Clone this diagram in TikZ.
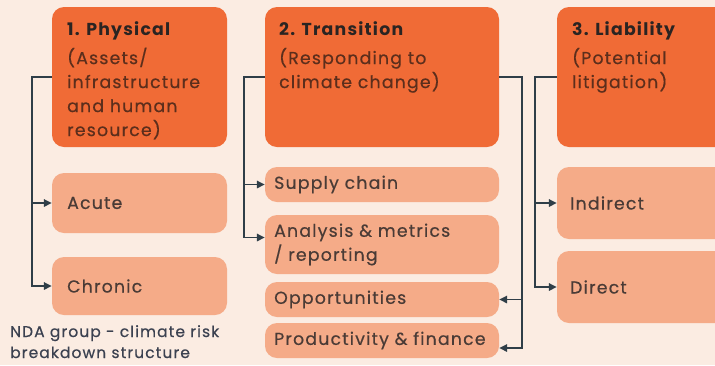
\documentclass[tikz,border=0pt]{standalone}
\usepackage{fontspec}
\setmainfont{Poppins}[LetterSpace=7, FakeBold=0.5, BoldFont=Poppins Bold, BoldFeatures={FakeBold=0}]
\usetikzlibrary{arrows.meta}
\definecolor{bgpeach}{HTML}{FBECE2}
\definecolor{riskorange}{HTML}{F06B36}
\definecolor{risklight}{HTML}{F5AB88}
\definecolor{slate}{HTML}{2F3E48}
\definecolor{headtext}{HTML}{2A2422}
\definecolor{subtext}{HTML}{5C2E1C}
\definecolor{itemtext}{HTML}{4A3B36}
\definecolor{captext}{HTML}{3B4150}
\tikzset{
  mainbox/.style={fill=riskorange, rounded corners=12pt, inner sep=0pt},
  itembox/.style={fill=risklight, rounded corners=12pt, inner sep=0pt},
  headlabel/.style={anchor=north west, align=left, inner sep=0pt, font=\fontsize{17.3}{24}\selectfont, text=subtext},
  itemlabel/.style={anchor=west, align=left, inner sep=0pt, font=\fontsize{17.3}{24}\selectfont, text=itemtext},
  conn/.style={draw=slate, line width=1.6pt},
  arr/.style={conn, -{Triangle[length=8pt, width=7.5pt]}},
}
\begin{document}
\begin{tikzpicture}[x=1pt, y=-1pt]
\useasboundingbox (0,0) rectangle (715,365);
\clip (0,0) rectangle (715,365);
\fill[bgpeach] (0,0) rectangle (715,365);

% --- main category boxes
\node[mainbox, minimum width=175pt, minimum height=140pt] (p1) at (139.5,77) {};
\node[mainbox, minimum width=234pt, minimum height=140pt] (p2) at (382,77) {};
\node[mainbox, minimum width=180pt, minimum height=140pt] (p3) at (647,77) {};

\node[headlabel] (t1) at (67,21) {\textbf{\color{headtext}1. Physical}\\[5pt](Assets/\\infrastructure\\and human\\resource)};
\node[headlabel] (t2) at (279,21) {\textbf{\color{headtext}2. Transition}\\[5pt](Responding to\\climate change)};
\node[headlabel] (t3) at (572,21) {\textbf{\color{headtext}3. Liability}\\[5pt](Potential\\litigation)};

% --- sub-items, physical
\node[itembox, minimum width=175pt, minimum height=60pt] (acute) at (139.5,203) {};
\node[itembox, minimum width=175pt, minimum height=58pt] (chronic) at (139.5,286) {};
\node[itemlabel] (acuteT) at (67,203) {Acute};
\node[itemlabel] (chronicT) at (67,286) {Chronic};

% --- sub-items, transition
\node[itembox, minimum width=234pt, minimum height=35pt] (supply) at (382,184.5) {};
\node[itembox, minimum width=234pt, minimum height=59pt] (analysis) at (382,244.5) {};
\node[itembox, minimum width=234pt, minimum height=35pt] (opport) at (382,299.5) {};
\node[itembox, minimum width=234pt, minimum height=35pt] (product) at (382,340.5) {};
\node[itemlabel] (supplyT) at (274,184.5) {Supply chain};
\node[itemlabel] (analysisT) at (274,244.5) {Analysis \& metrics\\/ reporting};
\node[itemlabel] (opportT) at (274,299.5) {Opportunities};
\node[itemlabel] (productT) at (274,340.5) {Productivity \& finance};

% --- sub-items, liability
\node[itembox, minimum width=180pt, minimum height=72pt] (indirect) at (647,203) {};
\node[itembox, minimum width=180pt, minimum height=72pt] (direct) at (647,287) {};
\node[itemlabel] (indirectT) at (570,203) {Indirect};
\node[itemlabel] (directT) at (570,287) {Direct};

% --- caption
\node[anchor=north west, align=left, inner sep=0pt, font=\fontsize{15.5}{21}\selectfont, text=captext] (cap) at (10,325) {NDA group - climate risk\\breakdown structure};

% --- connectors
\coordinate (s1) at (32,77);
\draw[arr] (p1.west) -- (s1) |- (chronic.west);
\draw[arr] (s1 |- acute.west) -- (acute.west);

\coordinate (s2) at (244,77);
\draw[arr] (p2.west) -- (s2) |- ([yshift=7pt]analysis.west);
\draw[arr] (s2 |- supply.west) -- (supply.west);

\coordinate (s3) at (522,77);
\draw[arr] (p2.east) -- (s3) |- ([yshift=-7.5pt]product.east);
\draw[arr] (s3 |- opport.east) -- (opport.east);

\coordinate (s4) at (535,77);
\draw[arr] (p3.west) -- (s4) |- (direct.west);
\draw[arr] (s4 |- indirect.west) -- (indirect.west);
\end{tikzpicture}
\end{document}
